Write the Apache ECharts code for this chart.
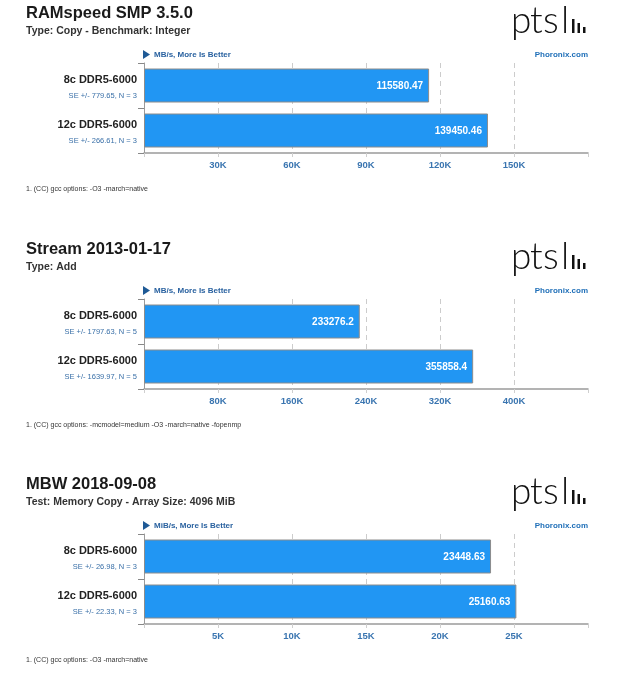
<!DOCTYPE html>
<html>
<head>
<meta charset="utf-8">
<script src="https://cdn.jsdelivr.net/npm/echarts@6/dist/echarts.min.js"></script>
<style>
html,body{margin:0;padding:0;background:#fff;}
#c{width:623px;height:679px;}
</style>
</head>
<body>
<div id="c"></div>
<script>
// ---- data ----
const titles = ['RAMspeed SMP 3.5.0', 'Stream 2013-01-17', 'MBW 2018-09-08'];
const subtitles = ['Type: Copy - Benchmark: Integer', 'Type: Add', 'Test: Memory Copy - Array Size: 4096 MiB'];
const units = ['MB/s, More Is Better', 'MB/s, More Is Better', 'MiB/s, More Is Better'];
const footnotes = [
  '1. (CC) gcc options: -O3 -march=native',
  '1. (CC) gcc options: -mcmodel=medium -O3 -march=native -fopenmp',
  '1. (CC) gcc options: -O3 -march=native'
];
const categories = ['8c DDR5-6000', '12c DDR5-6000'];
const ramspeedSE = ['SE +/- 779.65, N = 3', 'SE +/- 266.61, N = 3'];
const streamSE = ['SE +/- 1797.63, N = 5', 'SE +/- 1639.97, N = 5'];
const mbwSE = ['SE +/- 26.98, N = 3', 'SE +/- 22.33, N = 3'];
const ramspeedValues = [115580.47, 139450.46];
const streamValues = [233276.2, 355858.4];
const mbwValues = [23448.63, 25160.63];
const axisMax = [180000, 480000, 30000];
const axisInterval = [30000, 80000, 5000];

const seLabels = [ramspeedSE, streamSE, mbwSE];
const seriesValues = [ramspeedValues, streamValues, mbwValues];

// ---- layout ----
const FONT = '"Liberation Sans", Arial, sans-serif';
const panelTops = [0, 236, 471];
const gridLeft = 144, gridWidth = 444;

const chart = echarts.init(document.getElementById('c'), null, {renderer: 'canvas'});

const grids = [], xAxes = [], yAxes = [], series = [], graphics = [];

panelTops.forEach((off, p) => {
  grids.push({left: gridLeft, width: gridWidth, top: 63 + off, height: 90, containLabel: false});
  xAxes.push({
    type: 'value', gridIndex: p, min: 0, max: axisMax[p], interval: axisInterval[p],
    axisLine: {show: true, onZero: false, lineStyle: {color: '#9a9a9a', width: 1.5}},
    axisTick: {show: true, length: 4, lineStyle: {color: '#cfcfcf'}},
    splitLine: {show: true, showMinLine: false, showMaxLine: false, lineStyle: {color: '#cccccc', type: [5, 4], width: 1}},
    axisLabel: {
      margin: 7, color: '#3a75b0', fontSize: 9.5, fontWeight: 'bold', fontFamily: FONT,
      formatter: v => (v === 0 || v === axisMax[p]) ? '' : (v / 1000) + 'K'
    }
  });
  yAxes.push({
    type: 'category', gridIndex: p, data: categories, inverse: true,
    axisLine: {show: true, lineStyle: {color: '#9a9a9a', width: 1}},
    axisTick: {show: true, length: 6, lineStyle: {color: '#888'}},
    axisLabel: {
      margin: 7, fontFamily: FONT, align: 'right', padding: [5, 0, 0, 0],
      formatter: (v, i) => '{a|' + v + '}\n{b|' + seLabels[p][i] + '}',
      rich: {
        a: {fontSize: 11, fontWeight: 'bold', color: '#222', lineHeight: 16, fontFamily: FONT, align: 'right'},
        b: {fontSize: 7.5, color: '#3a70a8', lineHeight: 16, fontFamily: FONT, align: 'right'}
      }
    }
  });
  series.push({
    type: 'bar', xAxisIndex: p, yAxisIndex: p, data: seriesValues[p], barWidth: 34,
    itemStyle: {color: '#2196f3', borderColor: '#8c8c8c', borderWidth: 1},
    label: {show: true, position: 'insideRight', distance: 6, color: '#fff', fontWeight: 'bold', fontSize: 10, fontFamily: FONT, offset: [0, 1]},
    silent: true
  });

  // titles
  graphics.push({type: 'text', left: 26, top: 5 + off, style: {text: titles[p], font: 'bold 16.5px ' + FONT, fill: '#1a1a1a'}});
  graphics.push({type: 'text', left: 26, top: 26 + off, style: {text: subtitles[p], font: 'bold 10.5px ' + FONT, fill: '#333'}});
  // unit note
  graphics.push({type: 'polygon', shape: {points: [[143, 50 + off], [143, 59 + off], [150, 54.5 + off]]}, style: {fill: '#1f5a96'}});
  graphics.push({type: 'text', x: 154, y: 54.5 + off, style: {text: units[p], font: 'bold 8px ' + FONT, fill: '#2a62a0', verticalAlign: 'middle'}});
  graphics.push({type: 'text', x: 588, y: 54.5 + off, style: {text: 'Phoronix.com', font: 'bold 8px ' + FONT, fill: '#1f6fb8', align: 'right', verticalAlign: 'middle'}});
  // logo
  const logoLetters = [['p', 511], ['t', 530], ['s', 543], ['l', 561]];
  logoLetters.forEach(([ch, x]) => {
    graphics.push({type: 'text', x: x, y: 3 + off, style: {text: ch, font: '300 37px Lato, "DejaVu Sans", sans-serif', fill: '#111', verticalAlign: 'top'}});
  });
  [[572, 19], [577.5, 23], [583, 27]].forEach(([x, y]) => {
    graphics.push({type: 'rect', shape: {x: x, y: y + off, width: 2.5, height: 33 - y}, style: {fill: '#111'}});
  });
  // footnote
  graphics.push({type: 'text', x: 26, y: 189 + off, style: {text: footnotes[p], font: '7px ' + FONT, fill: '#333', verticalAlign: 'middle'}});
});

chart.setOption({
  animation: false,
  backgroundColor: '#fff',
  grid: grids, xAxis: xAxes, yAxis: yAxes, series: series,
  graphic: graphics
});
</script>
</body>
</html>
